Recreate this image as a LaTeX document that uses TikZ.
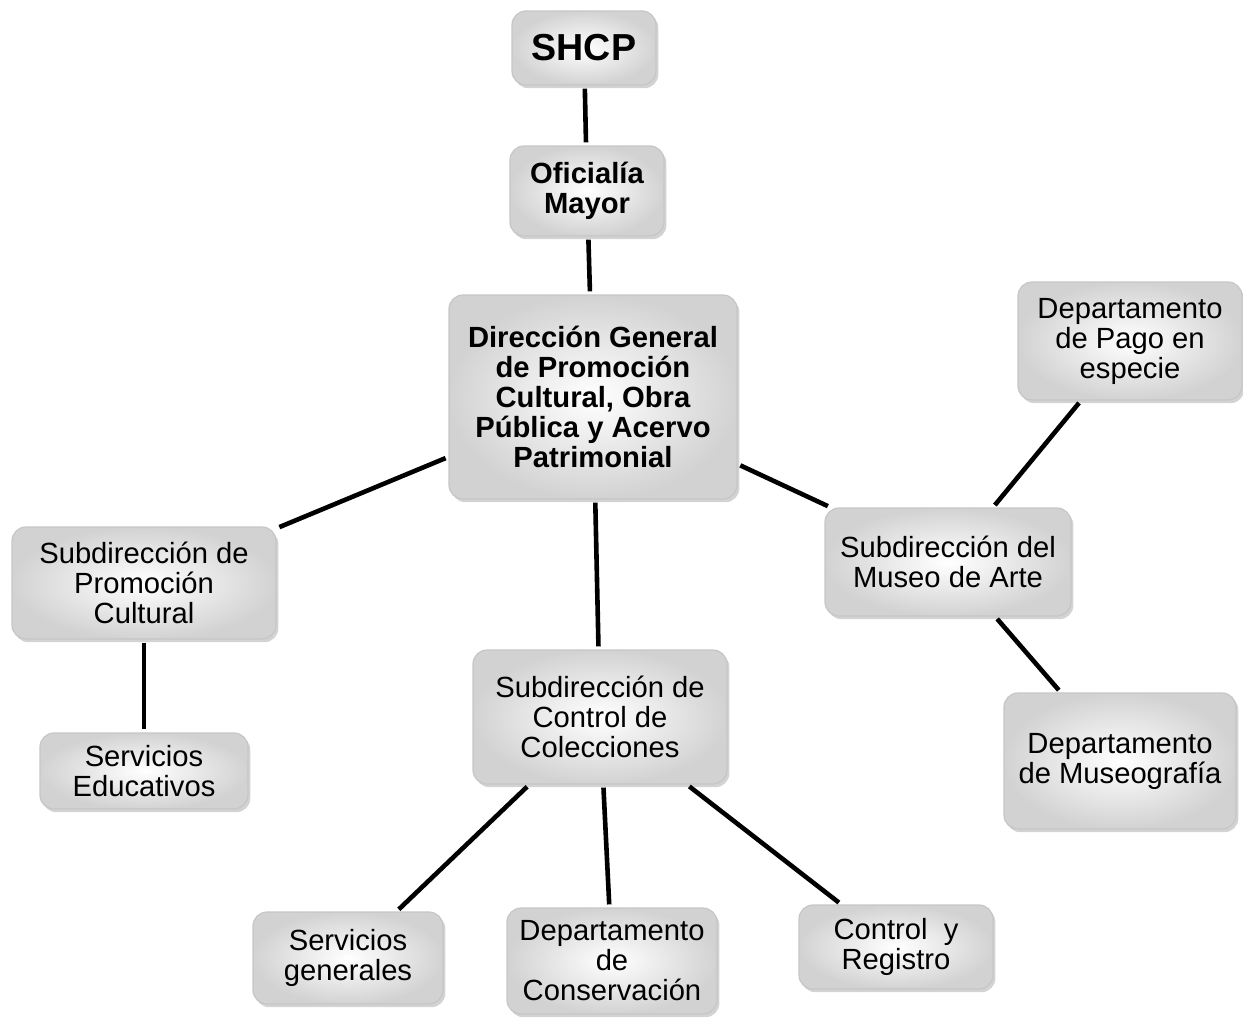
\documentclass[tikz,border=0pt]{standalone}
\usepackage{fontspec}
\setmainfont{Liberation Sans}
\usetikzlibrary{shadows}

\tikzset{
	box/.style={rounded corners=7pt, draw=gray!45, line width=0.6pt,
		inner color=white, outer color=gray!35,
		drop shadow={opacity=0.35, shadow xshift=1.2pt, shadow yshift=-1.6pt},
		align=center, inner sep=0pt,
		font=\fontsize{14.6}{15}\selectfont},
	link/.style={line width=2.3pt}
}

\begin{document}
\begin{tikzpicture}[x=0.5pt,y=-0.5pt]
	\def \short{ 1.5pt };
	\useasboundingbox (0,0) rectangle (1243,1019);
	\node[box, minimum width=72pt, minimum height=37pt, font=\fontsize{18.8}{20}\selectfont\bfseries] (0) at (584,48) {SHCP};
	\node[box, minimum width=77pt, minimum height=45pt, font=\fontsize{14.6}{15}\selectfont\bfseries] (1) at (587,191) {Oficialía\\Mayor};
	\node[box, minimum width=144pt, minimum height=102pt, font=\fontsize{14.6}{15}\selectfont\bfseries] (2) at (593,397) {Dirección General\\de Promoción\\Cultural, Obra\\Pública y Acervo\\Patrimonial};
	\node[box, minimum width=132pt, minimum height=56pt] (3) at (144,583) {Subdirección de\\Promoción\\Cultural};
	\node[box, minimum width=104pt, minimum height=38pt] (4) at (144,771) {Servicios\\Educativos};
	\node[box, minimum width=127pt, minimum height=67pt] (5) at (600,717) {Subdirección de\\Control de\\Colecciones};
	\node[box, minimum width=95pt, minimum height=46pt] (6) at (348,958) {Servicios\\generales};
	\node[box, minimum width=105pt, minimum height=53pt] (7) at (612,961) {Departamento\\de\\Conservación};
	\node[box, minimum width=97pt, minimum height=42pt] (8) at (896,947) {Control~~y\\Registro};
	\node[box, minimum width=123pt, minimum height=54pt] (9) at (948,562) {Subdirección del\\Museo de Arte};
	\node[box, minimum width=112pt, minimum height=59pt] (10) at (1130,341) {Departamento\\de Pago en\\especie};
	\node[box, minimum width=116pt, minimum height=68pt] (11) at (1120,761) {Departamento\\de Museografía};
	\draw[link, shorten <= \short, shorten >= \short] (0) -- (1);
	\draw[link, shorten <= \short, shorten >= \short] (1) -- (2);
	\draw[link, shorten <= \short, shorten >= \short] (2) -- (3);
	\draw[link, shorten <= \short, shorten >= \short] (3) -- (4);
	\draw[link, shorten <= \short, shorten >= \short] (2) -- (5);
	\draw[link, shorten <= \short, shorten >= \short] (5) -- (6);
	\draw[link, shorten <= \short, shorten >= \short] (5) -- (7);
	\draw[link, shorten <= \short, shorten >= \short] (5) -- (8);
	\draw[link, shorten <= \short, shorten >= \short] (2) -- (9);
	\draw[link, shorten <= \short, shorten >= \short] (9) -- (10);
	\draw[link, shorten <= \short, shorten >= \short] (9) -- (11);
\end{tikzpicture}
\end{document}
